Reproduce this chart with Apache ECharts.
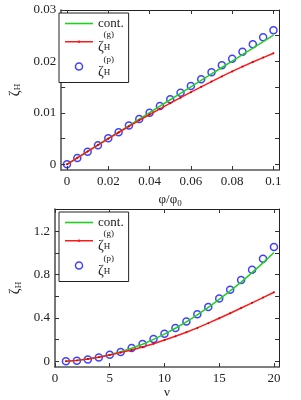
<!DOCTYPE html>
<html><head><meta charset="utf-8">
<script src="https://cdn.jsdelivr.net/npm/echarts@6/dist/echarts.min.js"></script>
<style>html,body{margin:0;padding:0;background:#fff}#c{width:301px;height:400px}</style>
</head><body><div id="c"></div>
<script>
// ---- data ----
const phiTop = [0,0.005,0.01,0.015,0.02,0.025,0.03,0.035,0.04,0.045,0.05,0.055,0.06,0.065,0.07,0.075,0.08,0.085,0.09,0.095,0.1];
const contTop = [0,0.00125,0.0025,0.00376,0.00502,0.00627,0.00753,0.00878,0.01004,0.01129,0.01255,0.0138,0.01506,0.01631,0.01757,0.01882,0.02008,0.02133,0.02259,0.02384,0.0251];
const geomTop = [0,0.00125,0.0025,0.00374,0.00497,0.00618,0.00737,0.00854,0.00968,0.01079,0.01188,0.01296,0.01402,0.01506,0.01608,0.01708,0.01806,0.01899,0.01988,0.02074,0.02158];
const pertTop = [0,0.00123,0.00246,0.00369,0.00505,0.00622,0.00752,0.00881,0.01004,0.01134,0.01263,0.01393,0.01523,0.01652,0.01788,0.01924,0.02054,0.0219,0.02333,0.02469,0.02605];

const nuBottom = [1,2,3,4,5,6,7,8,9,10,11,12,13,14,15,16,17,18,19,20];
const contBottom = [0.0025,0.01,0.022,0.04,0.062,0.089,0.122,0.159,0.203,0.252,0.306,0.365,0.43,0.498,0.572,0.65,0.731,0.818,0.908,1.003];
const geomBottom = [0.0025,0.01,0.022,0.039,0.059,0.082,0.106,0.133,0.163,0.197,0.232,0.269,0.309,0.353,0.398,0.444,0.492,0.54,0.588,0.637];
const pertBottom = [0.002,0.006,0.018,0.036,0.061,0.088,0.124,0.161,0.206,0.255,0.309,0.368,0.435,0.501,0.579,0.661,0.75,0.845,0.945,1.054];

const topXTicks = [0,0.02,0.04,0.06,0.08,0.1];
const topYTicks = [0,0.005,0.01,0.015,0.02,0.025,0.03];
const topYLabels = [0,0.01,0.02,0.03];
const botXTicks = [0,5,10,15,20];
const botYTicks = [0,0.2,0.4,0.6,0.8,1.0,1.2];
const botYLabels = [0,0.4,0.8,1.2];

const names = ['cont.','ζH(g)','ζH(p)'];

// ---- styling ----
const FONT = '"Liberation Serif", "Times New Roman", Times, serif';
const GREEN = '#1fd01f', RED = '#ff1a1a', BLUE = '#1010ff';
const fmt = v => String(+(+v).toFixed(4));
const pairs = (xs, ys) => xs.map((x,i)=>[x, ys[i]]);

function axisCommon(pos, ticks, labels, showLabel){
  return {
    type:'value', position: pos,
    axisLine:{show:true, onZero:false, lineStyle:{color: (pos==='left'||pos==='bottom')?'#555':'#222', width:(pos==='left'||pos==='bottom')?1.6:1}},
    axisTick:{show:true, inside:true, length:4, customValues:ticks, lineStyle:{color:'#333', width:1}},
    axisLabel:{show:showLabel, customValues:labels, formatter:fmt, fontFamily:FONT, fontSize:13, color:'#222', margin:5},
    splitLine:{show:false}
  };
}

const legendRich = {
  t:{fontFamily:FONT, fontSize:13, color:'#222', lineHeight:15},
  sp:{fontFamily:FONT, fontSize:9, width:5.5, lineHeight:12},
  sup:{fontFamily:FONT, fontSize:9, color:'#222', lineHeight:12},
  z:{fontFamily:FONT, fontSize:14, color:'#222', lineHeight:14.5},
  sub:{fontFamily:FONT, fontSize:9, color:'#222', lineHeight:14.5}
};
function legendFmt(name){
  if(name==='cont.') return '{t|cont.}';
  const s = name==='ζH(g)' ? '(g)' : '(p)';
  return '{sp| }{sup|'+s+'}\n{z|ζ}{sub|H}';
}
function legendAt(top){
  return {
    orient:'vertical', left:59, top:top, itemGap:0,
    data:[
      {name:names[0], icon:'path://M0 0H28V1.6H0Z', itemStyle:{color:GREEN}},
      {name:names[1], icon:'path://M0 0.4H28V2H0Z M13.2 0H14.8V2.4H13.2Z', itemStyle:{color:RED}},
      {name:names[2], icon:'circle', itemStyle:{color:'rgba(0,0,0,0)', borderColor:BLUE, borderWidth:1.5}}
    ],
    itemWidth:28, itemHeight:7, padding:[4,5,3,6],
    borderColor:'#222', borderWidth:1, backgroundColor:'#fff', borderRadius:0,
    formatter:legendFmt, textStyle:{fontFamily:FONT, fontSize:13, color:'#222', rich:legendRich},
    selectedMode:false
  };
}

const yNameRich = {
  z:{fontFamily:FONT, fontSize:14, color:'#222'},
  s:{fontFamily:FONT, fontSize:9, color:'#222', padding:[6,0,0,0]}
};

const option = {
  animation:false,
  backgroundColor:'#fff',
  grid:[
    {left:55, right:22, top:10, height:160},
    {left:55, right:22, top:209, height:160}
  ],
  xAxis:[
    Object.assign(axisCommon('bottom', topXTicks, topXTicks, true), {gridIndex:0, min:-0.00283, max:0.10268,
      name:'{a|φ/φ}{s|0}', nameLocation:'middle', nameGap:21,
      nameTextStyle:{rich:{a:{fontFamily:FONT,fontSize:13,color:'#222'}, s:{fontFamily:FONT,fontSize:9,color:'#222',padding:[8,0,0,0]}}}}),
    Object.assign(axisCommon('top', topXTicks, topXTicks, false), {gridIndex:0, min:-0.00283, max:0.10268}),
    Object.assign(axisCommon('bottom', botXTicks, botXTicks, true), {gridIndex:1, min:0, max:20.46,
      name:'ν', nameLocation:'middle', nameGap:19, nameTextStyle:{fontFamily:FONT, fontSize:13, color:'#222'}}),
    Object.assign(axisCommon('top', botXTicks, botXTicks, false), {gridIndex:1, min:0, max:20.46})
  ],
  yAxis:[
    Object.assign(axisCommon('left', topYTicks, topYLabels, true), {gridIndex:0, min:-0.00111, max:0.03,
      name:'{z|ζ}{s|H}', nameLocation:'middle', nameRotate:90, nameGap:36, nameTextStyle:{rich:yNameRich}}),
    Object.assign(axisCommon('right', topYTicks, topYLabels, false), {gridIndex:0, min:-0.00111, max:0.03}),
    Object.assign(axisCommon('left', botYTicks, botYLabels, true), {gridIndex:1, min:-0.051, max:1.404,
      name:'{z|ζ}{s|H}', nameLocation:'middle', nameRotate:90, nameGap:29, nameTextStyle:{rich:yNameRich}}),
    Object.assign(axisCommon('right', botYTicks, botYLabels, false), {gridIndex:1, min:-0.051, max:1.404})
  ],
  legend:[ legendAt(13), legendAt(212) ],
  series:[
    {name:'cont.', type:'line', xAxisIndex:0, yAxisIndex:0, data:pairs(phiTop, contTop), symbol:'none', lineStyle:{color:GREEN, width:1.5}, itemStyle:{color:GREEN}, clip:false},
    {name:'ζH(g)', type:'line', xAxisIndex:0, yAxisIndex:0, data:pairs(phiTop, geomTop), symbol:'circle', symbolSize:2, lineStyle:{color:RED, width:1.5}, itemStyle:{color:'#d00000'}, clip:false},
    {name:'ζH(p)', type:'scatter', xAxisIndex:0, yAxisIndex:0, data:pairs(phiTop, pertTop), symbol:'circle', symbolSize:7, itemStyle:{color:'rgba(0,0,0,0)', borderColor:BLUE, borderWidth:1.5}, clip:false},
    {name:'cont.', type:'line', xAxisIndex:2, yAxisIndex:2, data:pairs(nuBottom, contBottom), symbol:'none', lineStyle:{color:GREEN, width:1.5}, itemStyle:{color:GREEN}, clip:false},
    {name:'ζH(g)', type:'line', xAxisIndex:2, yAxisIndex:2, data:pairs(nuBottom, geomBottom), symbol:'circle', symbolSize:2, lineStyle:{color:RED, width:1.5}, itemStyle:{color:'#d00000'}, clip:false},
    {name:'ζH(p)', type:'scatter', xAxisIndex:2, yAxisIndex:2, data:pairs(nuBottom, pertBottom), symbol:'circle', symbolSize:7, itemStyle:{color:'rgba(0,0,0,0)', borderColor:BLUE, borderWidth:1.5}, clip:false}
  ]
};
const chart = echarts.init(document.getElementById('c'), null, {renderer:'canvas'});
chart.setOption(option);
</script>
</body></html>
